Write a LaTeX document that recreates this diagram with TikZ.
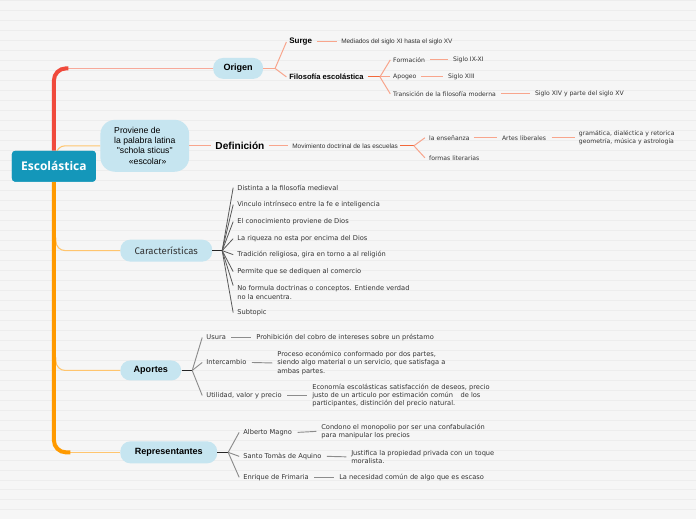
\documentclass[tikz,border=0pt]{standalone}
\usepackage{fontspec}
\setmainfont{DejaVu Sans}
\newfontfamily\lib{Liberation Sans}
\newfontfamily\fira{Fira Sans}
\newfontfamily\opens{Open Sans}
\definecolor{bgc}{HTML}{F6F6F6}
\definecolor{rulec}{HTML}{EDEDED}
\definecolor{rootc}{HTML}{1497BA}
\definecolor{nodec}{HTML}{C6E5F0}
\definecolor{redc}{HTML}{F04A3C}
\definecolor{redthinc}{HTML}{F7A99A}
\definecolor{orc}{HTML}{FF9A00}
\definecolor{orthinc}{HTML}{FFC56E}
\definecolor{salc}{HTML}{F8A58C}
\definecolor{darksalc}{HTML}{F2683A}
\definecolor{txtc}{HTML}{333333}
\definecolor{grayc}{HTML}{8C8C8C}
\newcommand\px{0.75pt}
\tikzset{
  rootbox/.style={fill=rootc, rounded corners=2.5pt, minimum width=84*\px, minimum height=31*\px, inner sep=0pt, text=white, font=\opens\bfseries\fontsize{9pt}{10pt}\selectfont},
  mainbox/.style={fill=nodec, rounded corners=7.5pt, inner sep=0pt, font=\lib\bfseries\fontsize{6.8pt}{8pt}\selectfont, text=black},
  txt/.style={anchor=west, inner sep=0pt, align=left, text=txtc, font=\fontsize{5pt}{6.3pt}\selectfont},
  stxt/.style={txt, font=\fontsize{4.6pt}{6pt}\selectfont},
  tiny/.style={anchor=west, inner sep=0pt, text=txtc, font=\lib\fontsize{4.85pt}{6pt}\selectfont},
  head/.style={anchor=west, inner sep=0pt, text=black, font=\lib\bfseries\fontsize{6pt}{7pt}\selectfont},
  redthick/.style={draw=redc, line width=3pt},
  orthick/.style={draw=orc, line width=3pt},
  redthin/.style={draw=redthinc, line width=0.8pt},
  orthin/.style={draw=orthinc, line width=0.8pt},
  sal/.style={draw=salc, line width=0.75pt},
  darksal/.style={draw=darksalc, line width=0.9pt},
  stem/.style={draw=black!85, line width=1.1pt},
  gline/.style={draw=grayc, line width=0.7pt},
  dline/.style={draw=black!65, line width=0.6pt}
}
\begin{document}
\begin{tikzpicture}[x=0.75pt,y=-0.75pt]
\fill[bgc] (0,0) rectangle (696,520);
\foreach \yy in {0.7,10.7,...,520} \draw[rulec, line width=0.75pt] (0,\yy) -- (696,\yy);
\useasboundingbox (0,0) rectangle (696,520);

% ---------- main nodes ----------
\node[rootbox] (root) at (53.5,166.5) {Escolástica};
\node[mainbox, minimum width=50*\px, minimum height=21*\px] (origen) at (238,68.5) {Origen};
\node[mainbox, rounded corners=11pt, minimum width=89*\px, minimum height=52*\px, align=left, font=\lib\fontsize{6.5pt}{7.6pt}\selectfont] (prov) at (144.5,146) {Proviene de\\la palabra latina\\\hspace*{2pt}"schola sticus"\\\hspace*{11pt}«escolar»};
\node[mainbox, minimum width=92*\px, minimum height=22*\px, font=\fira\fontsize{7.2pt}{8pt}\selectfont, text=txtc] (carac) at (166,251) {Características};
\node[mainbox, minimum width=61*\px, minimum height=20*\px] (aport) at (150.5,371) {Aportes};
\node[mainbox, minimum width=97*\px, minimum height=22*\px] (repr) at (168.5,453) {Representantes};

% ---------- coordinates ----------
\coordinate (ocorner) at (68,68.5);
\coordinate (rcorner) at (70,453);

% ---------- branches from trunk ----------
\draw[orthin, rounded corners=7pt] (55.5,158) -- (55.5,146) -- (prov.west);
\draw[orthin, rounded corners=7pt] (55.5,238) -- (55.5,251) -- (carac.west);
\draw[orthin, rounded corners=7pt] (55.5,358) -- (55.5,371) -- (aport.west);
\draw[redthin] (ocorner) -- (origen.west);
\draw[orthin] (rcorner) -- (repr.west);
% trunk
\draw[redthick, rounded corners=9pt] (root.north) -- (53.5,68.5) -- (ocorner);
\draw[orthick, rounded corners=9pt] (root.south) -- (53.5,453) -- (rcorner);
\node[rootbox] at (root) {Escolástica};

% ---------- Origen ----------
\coordinate (fo) at (275,68.5);
\node[head] (surge) at (289,42) {Surge};
\node[head, font=\lib\bfseries\fontsize{5.7pt}{7pt}\selectfont] (filo) at (289,77) {Filosofía escolástica};
\node[tiny] (medi) at (341,42) {Mediados del siglo XI hasta el siglo XV};
\draw[sal] (origen.east) -- (fo);
\draw[sal] (fo) -- ([xshift=-2pt]surge.west);
\draw[sal] (fo) -- ([xshift=-2pt]filo.west);
\draw[sal] ([xshift=3.5pt]surge.east) -- ([xshift=-3pt]medi.west);

\coordinate (ff) at (380,77);
\node[stxt] (form) at (393,60) {Formación};
\node[stxt] (apog) at (393,77) {Apogeo};
\node[stxt] (tran) at (393,94) {Transición de la filosofía moderna};
\node[stxt] (s1) at (453,60) {Siglo IX-XI};
\node[stxt] (s2) at (448,77) {Siglo XIII};
\node[stxt] (s3) at (535,94) {Siglo XIV y parte del siglo XV};
\draw[darksal] ([xshift=3pt]filo.east) -- (ff);
\draw[sal] (ff) -- ([xshift=-2pt]form.west);
\draw[sal] (ff) -- ([xshift=-2pt]apog.west);
\draw[sal] (ff) -- ([xshift=-2pt]tran.west);
\draw[sal] ([xshift=3.5pt]form.east) -- ([xshift=-3.5pt]s1.west);
\draw[sal] ([xshift=3.5pt]apog.east) -- ([xshift=-3.5pt]s2.west);
\draw[sal] ([xshift=3.5pt]tran.east) -- ([xshift=-3.5pt]s3.west);

% ---------- Definición ----------
\node[head, font=\lib\bfseries\fontsize{7.6pt}{9pt}\selectfont] (defi) at (215,146) {Definición};
\node[tiny] (movi) at (292,146) {Movimiento doctrinal de las escuelas};
\coordinate (fd) at (414,146);
\node[stxt] (ense) at (429,138) {la enseñanza};
\node[stxt] (lite) at (429,158) {formas literarias};
\node[stxt] (arte) at (502,138) {Artes liberales};
\node[stxt, font=\fontsize{4.6pt}{6.4pt}\selectfont] (gram) at (579,138) {gramática, dialéctica y retorica\\geometría, música y astrología};
\draw[sal] (prov.east) -- ([xshift=-3pt]defi.west);
\draw[sal] ([xshift=3pt]defi.east) -- ([xshift=-3pt]movi.west);
\draw[darksal] ([xshift=1.5pt]movi.east) -- (fd);
\draw[sal] (fd) -- ([xshift=-3pt]ense.west);
\draw[sal] (fd) -- ([xshift=-3pt]lite.west);
\draw[sal] ([xshift=3pt]ense.east) -- ([xshift=-3.5pt]arte.west);
\draw[sal] ([xshift=4pt]arte.east) -- ([xshift=-3pt]gram.west);

% ---------- Características ----------
\coordinate (fc) at (222,251);
\node[txt] (c1) at (237,188) {Distinta a la filosofía medieval};
\node[txt] (c2) at (237,205) {Vinculo intrínseco entre la fe e inteligencia};
\node[txt] (c3) at (237,222) {El conocimiento proviene de Dios};
\node[txt] (c4) at (237,239) {La riqueza no esta por encima del Dios};
\node[txt] (c5) at (237,255) {Tradición religiosa, gira en torno a al religión};
\node[txt] (c6) at (237,272) {Permite que se dediquen al comercio};
\node[txt] (c7) at (237,293) {No formula doctrinas o conceptos. Entiende verdad\\no la encuentra.};
\node[txt] (c8) at (237,313) {Subtopic};
\draw[stem] (carac.east) -- (fc);
\foreach \c in {c1,c2,c3,c4,c5,c6,c8} \draw[dline] (fc) -- ([xshift=-3pt]\c.west);
\draw[dline] (fc) -- ([xshift=-3pt]c7.north west);

% ---------- Aportes ----------
\coordinate (fa) at (192,371);
\node[txt] (usu) at (206,338) {Usura};
\node[txt] (inte) at (206,363) {Intercambio};
\node[txt] (util) at (206,396) {Utilidad, valor y precio};
\node[txt] (prohi) at (256,338) {Prohibición del cobro de intereses sobre un préstamo};
\node[txt] (proc) at (277,363.5) {Proceso económico conformado por dos partes,\\siendo algo material o un servicio, que satisfaga a\\ambas partes.};
\node[txt] (econ) at (312,396) {Economía escolásticas satisfacción de deseos, precio\\justo de un articulo por estimación común\hspace{4pt} de los\\participantes, distinción del precio natural.};
\draw[stem] (aport.east) -- (fa);
\draw[gline] (fa) -- ([xshift=-3pt]usu.west);
\draw[gline] (fa) -- ([xshift=-3pt]inte.west);
\draw[gline] (fa) -- ([xshift=-3pt]util.west);
\draw[gline] ([xshift=4pt]usu.east) -- ([xshift=-3.5pt]prohi.west);
\draw[gline] ([xshift=4pt]inte.east) -- ([xshift=-3.5pt]proc.west);
\draw[gline] ([xshift=4pt]util.east) -- ([xshift=-3.5pt]econ.west);

% ---------- Representantes ----------
\coordinate (fr) at (228,453);
\node[txt] (albe) at (243,433) {Alberto Magno};
\node[txt] (sant) at (243,457) {Santo Tomàs de Aquino};
\node[txt] (enri) at (243,478) {Enrique de Frimaria};
\node[txt] (cond) at (321,432) {Condono el monopolio por ser una confabulación\\para manipular los precios};
\node[txt] (just) at (351,457.5) {Justifica la propiedad privada con un toque\\moralista.};
\node[txt] (nece) at (339,478) {La necesidad común de algo que es escaso};
\draw[stem] (repr.east) -- (fr);
\draw[gline] (fr) -- ([xshift=-3pt]albe.west);
\draw[gline] (fr) -- ([xshift=-3pt]sant.west);
\draw[gline] (fr) -- ([xshift=-3pt]enri.west);
\draw[gline] ([xshift=4pt]albe.east) -- ([xshift=-3.5pt]cond.west);
\draw[gline] ([xshift=4pt]sant.east) -- ([xshift=-3.5pt]just.west);
\draw[gline] ([xshift=4pt]enri.east) -- ([xshift=-3.5pt]nece.west);
\end{tikzpicture}
\end{document}
